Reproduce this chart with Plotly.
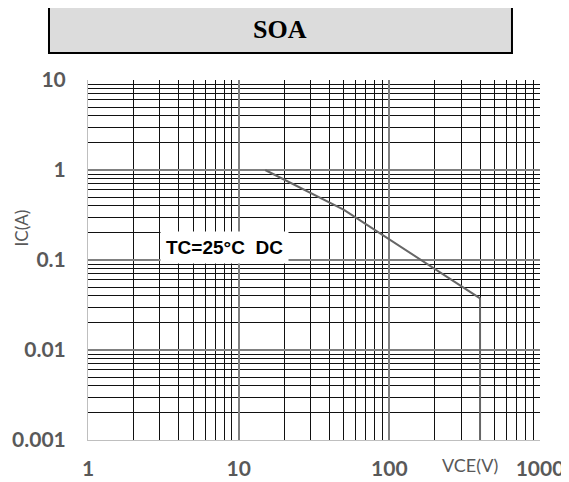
import plotly.graph_objects as go

vce = [15, 50, 400, 400]
ic = [1, 0.36, 0.0375, 0.001]
x_ticks = [1, 10, 100, 1000]
x_ticktext = ["1", "10", "100", "1000"]
y_ticks = [0.001, 0.01, 0.1, 1, 10]
y_ticktext = ["0.001", "0.01", "0.1", "1", "10"]

fig = go.Figure()
fig.add_trace(go.Scatter(x=vce, y=ic, mode="lines",
                         line=dict(color="#666666", width=2), showlegend=False))

tickfont = dict(family="Lato", size=21, color="#595959", weight="bold")
fig.update_xaxes(type="log", range=[0, 3], tickvals=x_ticks, ticktext=x_ticktext,
                 showgrid=True, gridcolor="#808080", gridwidth=1.5,
                 minor=dict(dtick="D1", showgrid=True, gridcolor="#111111", gridwidth=1),
                 showline=True, linecolor="#bfbfbf", linewidth=1, automargin=False,
                 ticks="", ticklabelstandoff=10, tickfont=tickfont, zeroline=False)
fig.update_yaxes(type="log", range=[-3, 1], tickvals=y_ticks, ticktext=y_ticktext,
                 showgrid=True, gridcolor="#808080", gridwidth=1.5,
                 minor=dict(dtick="D1", showgrid=True, gridcolor="#111111", gridwidth=1),
                 showline=True, linecolor="#bfbfbf", linewidth=1, automargin=False,
                 ticks="", ticklabelstandoff=17, tickfont=tickfont, zeroline=False)

fig.add_shape(type="rect", xref="paper", yref="paper",
              x0=-0.0863, x1=0.938, y0=1.075, y1=1.2028,
              fillcolor="#dcdcdc", line=dict(color="black", width=2))
center = dict(xanchor="center", yanchor="middle", showarrow=False,
              xref="paper", yref="paper")
fig.add_annotation(text="<b>SOA</b>", x=0.4248, y=1.139, **center,
                   font=dict(family="Liberation Serif", size=26, color="black"))
fig.add_annotation(text="<b>TC=25°C  DC</b>", x=0.303, y=0.536, **center,
                   bgcolor="white", borderpad=5,
                   font=dict(family="Liberation Sans", size=19, color="black"))
fig.add_annotation(text="VCE(V)", x=0.845, y=-0.069, **center,
                   font=dict(family="Lato", size=18, color="#595959"))
fig.add_annotation(text="IC(A)", x=-0.145, y=0.589, textangle=-90, **center,
                   font=dict(family="Lato", size=17, color="#595959"))

fig.update_layout(width=561, height=474, margin=dict(l=80, r=29, t=72, b=42),
                  paper_bgcolor="white", plot_bgcolor="white")
fig.write_html("out.html")
